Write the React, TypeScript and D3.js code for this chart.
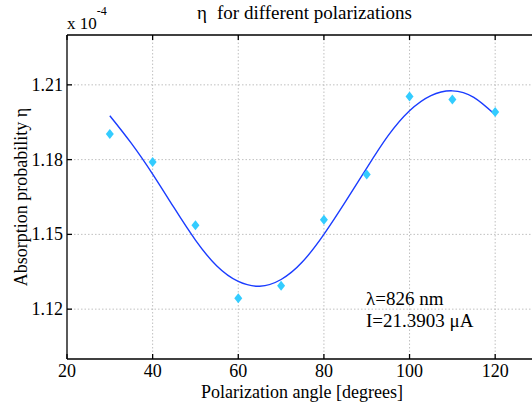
import React from "react";
import * as d3 from "d3";

// measured points (x 10^-4)
const angles = [30, 40, 50, 60, 70, 80, 90, 100, 110, 120];
const eta = [1.1903, 1.179, 1.1537, 1.1244, 1.1294, 1.1559, 1.174, 1.2053, 1.2041, 1.1991];

// fitted curve, every 5 degrees
const fitAngles = [30, 35, 40, 45, 50, 55, 60, 65, 70, 75, 80, 85, 90, 95, 100, 105, 110, 115, 120];
const fitEta = [
  1.1976, 1.1866, 1.1742, 1.1607, 1.1477, 1.1373, 1.1311, 1.1292, 1.1319, 1.1390,
  1.150, 1.163, 1.1766, 1.1896, 1.1996, 1.2057, 1.2076, 1.2050, 1.1980,
];

const xTicks = [20, 40, 60, 80, 100, 120];
const yTicks = [1.12, 1.15, 1.18, 1.21];

const W = 532;
const H = 405;
const margin = { left: 67, top: 35, right: -6, bottom: 46 };
const font = "Liberation Serif, DejaVu Serif, serif";

const App = () => {
  const x = d3
    .scaleLinear()
    .domain([20, 130])
    .range([margin.left, W - margin.right]);
  const y = d3
    .scaleLinear()
    .domain([1.1, 1.23])
    .range([H - margin.bottom, margin.top]);

  const fit = fitAngles.map((a, i) => [a, fitEta[i]] as [number, number]);
  const line = d3
    .line<[number, number]>()
    .x(d => x(d[0]))
    .y(d => y(d[1]))
    .curve(d3.curveNatural);

  const x0 = x.range()[0];
  const x1 = x.range()[1];
  const y0 = y.range()[0];
  const y1 = y.range()[1];

  const diamond = (cx: number, cy: number) =>
    `M${cx},${cy - 5}L${cx + 4},${cy}L${cx},${cy + 5}L${cx - 4},${cy}Z`;

  const ts = { fontFamily: font };

  return (
    <svg
      width={W}
      height={H}
      style={{ position: "absolute", left: 0, top: 0, background: "#fff", fontFamily: font }}
    >
      <rect x={0} y={0} width={W} height={H} fill="#fff" />

      {/* grid */}
      <g stroke="#b0b0b0" strokeWidth={0.8} strokeDasharray="1.5,2">
        {xTicks.slice(1).map(t => (
          <line key={"gx" + t} x1={x(t)} x2={x(t)} y1={y0} y2={y1} />
        ))}
        {yTicks.map(t => (
          <line key={"gy" + t} x1={x0} x2={x1} y1={y(t)} y2={y(t)} />
        ))}
      </g>

      {/* axes box */}
      <g stroke="#000" strokeWidth={1.3} fill="none">
        <line x1={x0} x2={x1} y1={y0} y2={y0} />
        <line x1={x0} x2={x1} y1={y1} y2={y1} />
        <line x1={x0} x2={x0} y1={y0} y2={y1} />
        {xTicks.map(t => (
          <g key={"tx" + t}>
            <line x1={x(t)} x2={x(t)} y1={y0} y2={y0 - 5} />
            <line x1={x(t)} x2={x(t)} y1={y1} y2={y1 + 5} />
          </g>
        ))}
        {yTicks.map(t => (
          <line key={"ty" + t} x1={x0} x2={x0 + 5} y1={y(t)} y2={y(t)} />
        ))}
      </g>

      {/* tick labels */}
      <g fontSize={18} fill="#000" style={ts}>
        {xTicks.map(t => (
          <text key={"lx" + t} x={x(t)} y={y0 + 18} textAnchor="middle" style={ts}>
            {t}
          </text>
        ))}
        {yTicks.map(t => (
          <text key={"ly" + t} x={x0 - 4} y={y(t) + 6} textAnchor="end" style={ts}>
            {t.toFixed(2)}
          </text>
        ))}
        <text x={x0} y={29} fontSize={17} style={ts}>
          x 10
          <tspan fontSize={12} dy={-14}>
            -4
          </tspan>
        </text>
      </g>

      {/* fit + data */}
      <path d={line(fit) || ""} fill="none" stroke="#1a3cff" strokeWidth={1.4} />
      <g fill="#33ccff">
        {angles.map((a, i) => (
          <path key={"p" + a} d={diamond(x(a), y(eta[i]))} />
        ))}
      </g>

      {/* labels */}
      <text y={19} fontSize={19} style={ts}>
        <tspan x={197}>η</tspan>
        <tspan x={217}>for different polarizations</tspan>
      </text>
      <text x={302} y={398} fontSize={18} textAnchor="middle" style={ts}>
        Polarization angle [degrees]
      </text>
      <text
        transform={`translate(27,${(y0 + y1) / 2}) rotate(-90)`}
        fontSize={18}
        textAnchor="middle"
        style={ts}
      >
        Absorption probability η
      </text>
      <g fontSize={19} style={ts}>
        <text x={366} y={305} style={ts}>λ=826 nm</text>
        <text x={366} y={327} style={ts}>I=21.3903 μA</text>
      </g>
    </svg>
  );
};

export default App;
